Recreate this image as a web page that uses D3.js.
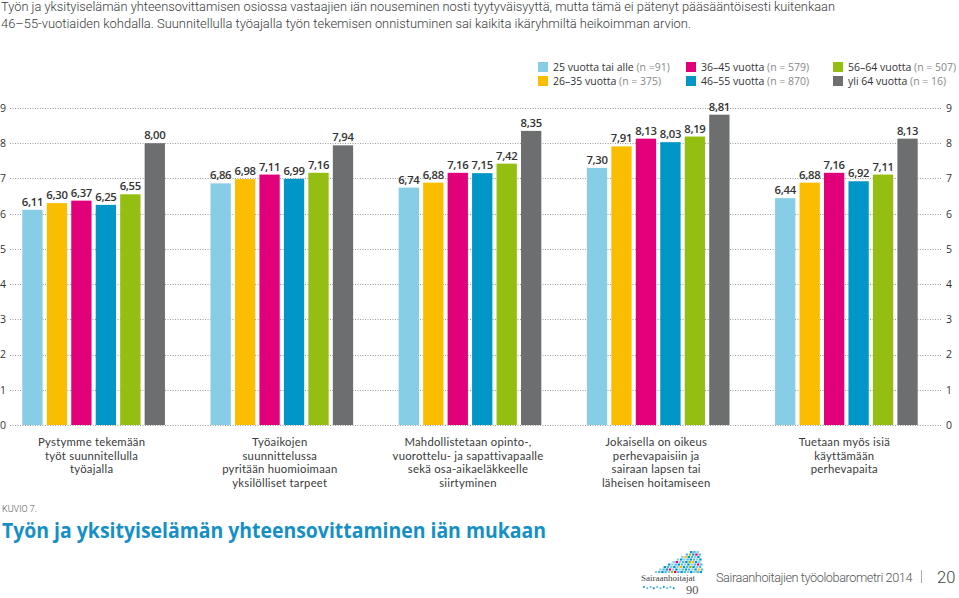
<!DOCTYPE html>
<html><head><meta charset="utf-8">
<script src="https://cdn.jsdelivr.net/npm/d3@7"></script>
<style>
html,body{margin:0;padding:0;background:#fff;}
svg{display:block;}
</style></head>
<body>
<script>
const categories = [
  ["Pystymme tekemään","työt suunnitellulla","työajalla"],
  ["Työaikojen","suunnittelussa","pyritään huomioimaan","yksilölliset tarpeet"],
  ["Mahdollistetaan  opinto-,","vuorottelu- ja sapattivapaalle","sekä osa-aikaeläkkeelle","siirtyminen"],
  ["Jokaisella on oikeus","perhevapaisiin ja","sairaan lapsen tai","läheisen hoitamiseen"],
  ["Tuetaan myös isiä","käyttämään","perhevapaita"]
];
const seriesNames = ["25 vuotta tai alle","26–35 vuotta","36–45 vuotta","46–55 vuotta","56–64 vuotta","yli 64 vuotta"];
const seriesN = ["(n =91)","(n = 375)","(n = 579)","(n = 870)","(n = 507)","(n = 16)"];
const colors = ["#87cde6","#fbbd00","#e2007a","#0096c8","#94be12","#6d6e70"];
const s25 = [6.11, 6.86, 6.74, 7.30, 6.44];
const s26 = [6.30, 6.98, 6.88, 7.91, 6.88];
const s36 = [6.37, 7.11, 7.16, 8.13, 7.16];
const s46 = [6.25, 6.99, 7.15, 8.03, 6.92];
const s56 = [6.55, 7.16, 7.42, 8.19, 7.11];
const s64 = [8.00, 7.94, 8.35, 8.81, 8.13];
const seriesValues = [s25, s26, s36, s46, s56, s64];
const yTicks = [0,1,2,3,4,5,6,7,8,9];

const W = 959, H = 598;
const svg = d3.select("body").append("svg").attr("width", W).attr("height", H);
const font = "'Open Sans', sans-serif";
const light = "Roboto, sans-serif";

// intro text
const intro = ["Työn ja yksityiselämän yhteensovittamisen osiossa vastaajien iän nouseminen nosti tyytyväisyyttä, mutta tämä ei pätenyt pääsääntöisesti kuitenkaan",
  "46–55-vuotiaiden kohdalla. Suunnitellulla työajalla työn tekemisen onnistuminen sai kaikita ikäryhmiltä heikoimman arvion."];
svg.append("g").selectAll("text").data(intro).join("text")
  .attr("x", 1).attr("y", (d,i)=>11+i*17)
  .attr("font-family", light)
  .attr("font-size", 12.6).attr("fill", "#3a3a3a").attr("font-weight", 300)
  .attr("textLength", (d,i)=> i===0 ? 834 : 690).attr("lengthAdjust","spacingAndGlyphs")
  .text(d=>d);

// scales
const y = d3.scaleLinear().domain([0,9]).range([425,108]);
const x0 = d3.scaleBand().domain(d3.range(categories.length)).range([22.3,917.7]).paddingInner(0.242).paddingOuter(0);
const x1 = d3.scaleBand().domain(d3.range(seriesNames.length)).range([0,x0.bandwidth()]).paddingInner(0.17).paddingOuter(0);

// grid
const grid = svg.append("g");
grid.selectAll("line").data(yTicks).join("line")
  .attr("x1", 10).attr("x2", 941)
  .attr("y1", d=>Math.round(y(d))+0.5).attr("y2", d=>Math.round(y(d))+0.5)
  .attr("stroke", "#9a9a9a").attr("stroke-width", 1).attr("stroke-dasharray","1,1.5");

// axes labels left/right
const axL = d3.axisLeft(y).tickValues(yTicks).tickSize(0).tickPadding(0);
const gL = svg.append("g").attr("transform","translate(6,0)").call(axL);
gL.select(".domain").remove();
gL.selectAll("text").attr("font-family", font).attr("font-size", 10.5).attr("fill","#333").attr("text-anchor","start").attr("x",-6);
const axR = d3.axisRight(y).tickValues(yTicks).tickSize(0).tickPadding(0);
const gR = svg.append("g").attr("transform","translate(946,0)").call(axR);
gR.select(".domain").remove();
gR.selectAll("text").attr("font-family", font).attr("font-size", 10.5).attr("fill","#333");

// bars
const groups = svg.append("g").selectAll("g").data(categories).join("g")
  .attr("transform", (d,i)=>`translate(${x0(i)},0)`);
groups.each(function(cat, gi){
  const g = d3.select(this);
  const vals = seriesValues.map((s,si)=>({si, v:s[gi]}));
  g.selectAll("rect").data(vals).join("rect")
    .attr("x", d=>x1(d.si)).attr("width", x1.bandwidth())
    .attr("y", d=>y(d.v)).attr("height", d=>y(0)-y(d.v))
    .attr("fill", d=>colors[d.si]);
  g.selectAll("text.val").data(vals).join("text").attr("class","val")
    .attr("x", d=>x1(d.si)+x1.bandwidth()/2).attr("y", d=>y(d.v)-4)
    .attr("text-anchor","middle").attr("font-family", font).attr("font-size", 11.3)
    .attr("font-weight", 600).attr("fill","#333").attr("letter-spacing","-0.3")
    .text(d=>d3.format(".2f")(d.v).replace(".", ","));
  g.selectAll("text.cat").data(cat).join("text").attr("class","cat")
    .attr("x", x0.bandwidth()/2 - 2).attr("y", (d,i)=>446+i*13.6)
    .attr("text-anchor","middle").attr("font-family", "Lato, sans-serif").attr("font-size", 11.3)
    .attr("letter-spacing", 0.25)
    .attr("fill","#3a3a3a").text(d=>d);
});

// legend
const legCols = [538, 686, 833];
const leg = svg.append("g").selectAll("g").data(seriesNames).join("g")
  .attr("transform", (d,i)=>`translate(${legCols[Math.floor(i/2)]},${62 + (i%2)*14})`);
leg.append("rect").attr("width",10).attr("height",10).attr("fill",(d,i)=>colors[i]);
const lt = leg.append("text").attr("x",15).attr("y",9).attr("font-family", font).attr("font-size",10.5);
lt.append("tspan").attr("fill","#333").text(d=>d+" ");
lt.append("tspan").attr("fill","#888").text((d,i)=>seriesN[i]);

// footer
svg.append("text").attr("x",2).attr("y",512).attr("font-family",light).attr("font-size",9).attr("fill","#555").attr("font-weight",300).text("KUVIO 7.");
svg.append("text").attr("x",2).attr("y",538).attr("font-family",font).attr("font-size",20.5).attr("font-weight",700)
  .attr("fill","#1590c6").attr("textLength",544).attr("lengthAdjust","spacingAndGlyphs")
  .text("Työn ja yksityiselämän yhteensovittaminen iän mukaan");

// logo (decorative)
const logo = svg.append("g").attr("transform","translate(640,550)");
const dots = [];
for (let r=0;r<9;r++){
  const left = 50 - r*4.4, right = 58 + r*0.6;
  for (let cx = left; cx <= right; cx += 3.2) dots.push([cx, 1 + r*2.5, r]);
}
logo.selectAll("rect").data(dots).join("rect").attr("x",d=>d[0]).attr("y",d=>d[1]).attr("width",2.4).attr("height",2.1)
  .attr("fill",(d,i)=> (i%17===6) ? "#e2007a" : (i%19===9 ? "#fbbd00" : (i%23===4 ? "#94be12" : ((i+d[2])%3===0 ? "#0096c8" : (i%2? "#4fb8e0":"#87cde6")))));
logo.append("text").attr("x",1).attr("y",31).attr("font-family","'Liberation Serif',serif").attr("font-size",9).attr("fill","#444").text("Sairaanhoitajat");
logo.append("text").attr("x",46).attr("y",44).attr("font-family","'Liberation Serif',serif").attr("font-size",12.5).attr("fill","#555").text("90");
const sw = d3.range(10);
logo.selectAll("circle").data(sw).join("circle").attr("cx",d=>4+d*3.3).attr("cy",d=>37+(d%2)*1.3).attr("r",1).attr("fill",d=>d%3===0?"#0096c8":"#4fb8e0");

svg.append("text").attr("x",716).attr("y",582).attr("font-family",light).attr("font-size",12).attr("fill","#555").attr("font-weight",300)
  .attr("letter-spacing","-0.4").attr("textLength",196).attr("lengthAdjust","spacingAndGlyphs").text("Sairaanhoitajien työolobarometri 2014");
svg.append("line").attr("x1",921.5).attr("x2",921.5).attr("y1",570).attr("y2",583).attr("stroke","#aaa");
svg.append("text").attr("x",937).attr("y",583).attr("font-family",light).attr("font-size",16.5).attr("fill","#444").attr("font-weight",300).text("20");
</script>
</body></html>
